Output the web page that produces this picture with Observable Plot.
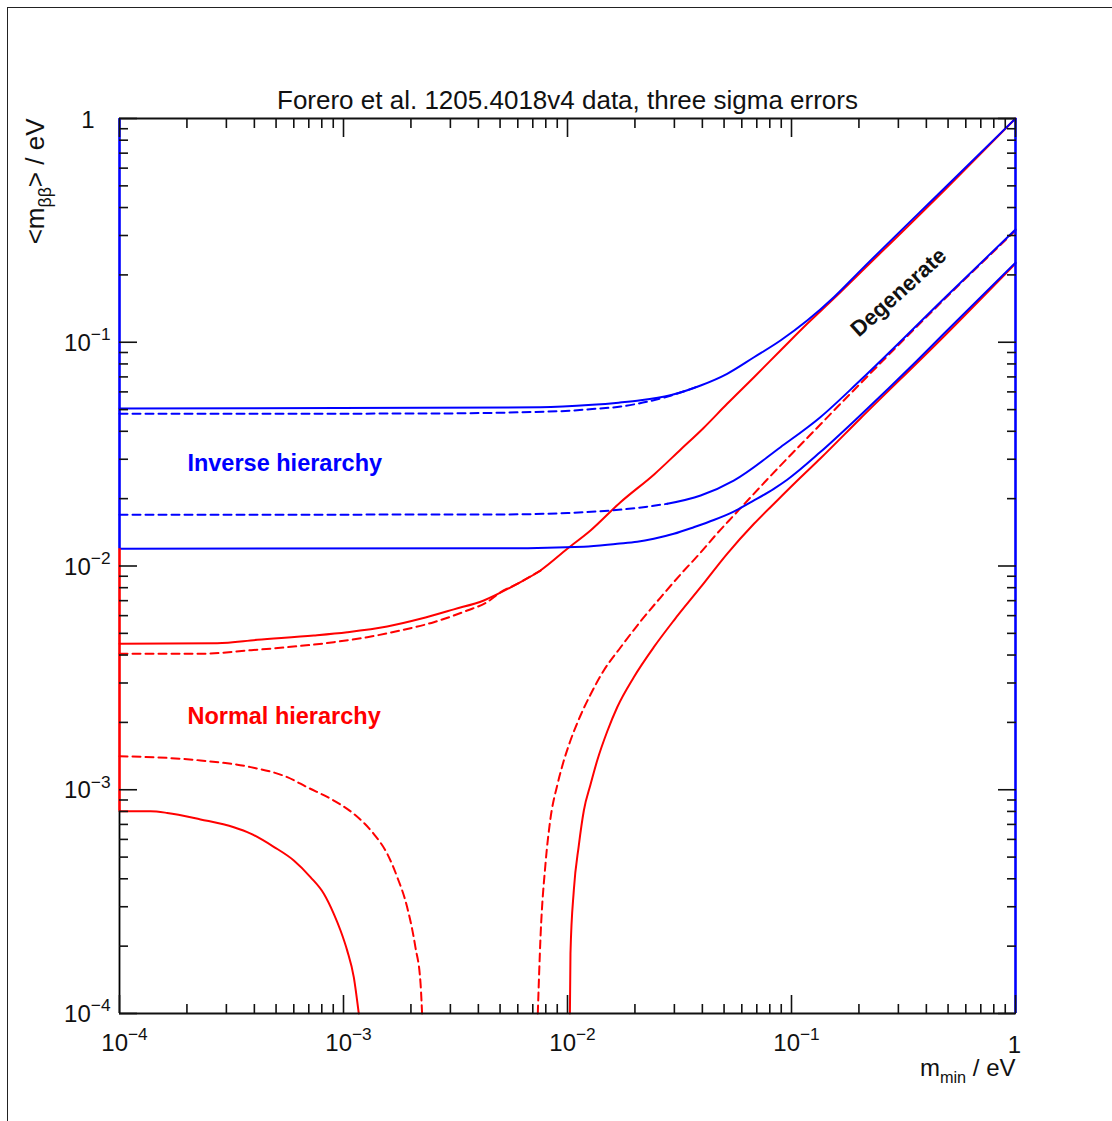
<!DOCTYPE html>
<html>
<head>
<meta charset="utf-8">
<script src="https://cdn.jsdelivr.net/npm/d3@7"></script>
<script src="https://cdn.jsdelivr.net/npm/@observablehq/plot@0.6"></script>
<style>
html, body { margin: 0; padding: 0; background: #fff; overflow: hidden; width: 1112px; height: 1121px; }
#chart { position: absolute; left: 0; top: 0; }
#frame { position: absolute; left: 7px; top: 7px; width: 1400px; height: 1400px; border: 1.6px solid #222; pointer-events: none; z-index: 2; }
</style>
</head>
<body>
<div id="chart"></div>
<div id="frame"></div>
<script>
// ---------------- data ----------------
const titleText = "Forero et al. 1205.4018v4 data, three sigma errors";
const xLabelText = "m_{min} / eV";
const yLabelText = "<m_{ββ}> / eV";

// Inverse hierarchy – upper edge, solid
const ihUpperSolidX = [1e-4, 0.00757, 0.0129, 0.0169, 0.0212, 0.0288, 0.0393, 0.0516, 0.0680, 0.0893, 0.1175, 0.1545, 0.203, 0.4955, 1];
const ihUpperSolidY = [0.0506, 0.0512, 0.0525, 0.0537, 0.0550, 0.0580, 0.0641, 0.0723, 0.0857, 0.1018, 0.125, 0.159, 0.209, 0.502, 1];
// Inverse hierarchy – upper edge, dashed
const ihUpperDashX = [1e-4, 0.0021, 0.0093, 0.0129, 0.0173, 0.0205, 0.0288, 0.0393];
const ihUpperDashY = [0.0479, 0.0480, 0.0492, 0.0503, 0.0516, 0.0531, 0.0577, 0.0641];
// Inverse hierarchy – lower edge, dashed (flat part) and its solid continuation
const ihLowerDashX = [1e-4, 0.0050, 0.0100, 0.0218, 0.0279];
const ihLowerDashY = [0.01694, 0.01700, 0.01725, 0.01832, 0.01897];
const ihLowerDashTailX = [0.0279, 0.0393, 0.0552, 0.0893, 0.1345, 0.203, 0.4955, 1];
const ihLowerDashTailY = [0.01897, 0.02066, 0.02410, 0.03396, 0.04624, 0.0676, 0.1618, 0.319];
// Inverse hierarchy – lower edge, solid
const ihLowerSolidX = [1e-4, 0.00502, 0.01183, 0.01667, 0.02048, 0.02428, 0.02982, 0.03663, 0.04498, 0.0552, 0.0680, 0.08337, 0.09568, 0.1345, 0.203, 0.364, 0.4786, 1];
const ihLowerSolidY = [0.01194, 0.01200, 0.01220, 0.01257, 0.01282, 0.01323, 0.01393, 0.01491, 0.01605, 0.01750, 0.01963, 0.02213, 0.02430, 0.03230, 0.04720, 0.08288, 0.1091, 0.227];

// Normal hierarchy – upper edge, solid
const nhUpperSolidX = [1e-4, 0.000273, 0.000412, 0.000737, 0.001039, 0.001567, 0.002207, 0.003108, 0.00423, 0.005962, 0.00757, 0.00998, 0.01267, 0.01724, 0.0245, 0.03194, 0.0404, 0.0516, 0.0680, 0.0893, 0.1175, 0.1545, 0.1965, 0.4955, 1];
const nhUpperSolidY = [0.00449, 0.004519, 0.00468, 0.004891, 0.005059, 0.005364, 0.005808, 0.0064, 0.007015, 0.008325, 0.009548, 0.01194, 0.01441, 0.01928, 0.0258, 0.0331, 0.0413, 0.05307, 0.06981, 0.09186, 0.1209, 0.1567, 0.1983, 0.492, 1];
// Normal hierarchy – upper edge, dashed
const nhUpperDashX = [1e-4, 0.00023, 0.000372, 0.000561, 0.000905, 0.001276, 0.001796, 0.00253, 0.003566, 0.004381, 0.005022, 0.006, 0.0076];
const nhUpperDashY = [0.004051, 0.004051, 0.004192, 0.004336, 0.004566, 0.004806, 0.005149, 0.00561, 0.006326, 0.0069, 0.00763, 0.00835, 0.00955];
// Normal hierarchy – lower edge, dashed (left branch, right branch)
const nhLowerDashLeftX = [1e-4, 0.00023, 0.000385, 0.000561, 0.000689, 0.000905, 0.001112, 0.001364, 0.001567, 0.001739, 0.001923, 0.002094, 0.002208, 0.002243];
const nhLowerDashLeftY = [0.001413, 0.001352, 0.001262, 0.001138, 0.001026, 0.000895, 0.00078, 0.000635, 0.000518, 0.000406, 0.000299, 0.000198, 0.000136, 0.0001];
const nhLowerDashRightX = [0.007369, 0.007577, 0.007976, 0.008395, 0.008995, 0.009462, 0.01031, 0.01143, 0.01267, 0.01452, 0.01724, 0.02117, 0.02602, 0.03194, 0.0393, 0.04654, 0.0552, 0.07788, 0.1345, 0.203, 0.4955, 1];
const nhLowerDashRightY = [0.0001, 0.000219, 0.000467, 0.000744, 0.001045, 0.00127, 0.00166, 0.002147, 0.002665, 0.003412, 0.004323, 0.005649, 0.007229, 0.009162, 0.01149, 0.01397, 0.01681, 0.02435, 0.04289, 0.0654, 0.1601, 0.3158];
// Normal hierarchy – lower edge, solid (left branch, right branch)
const nhLowerSolidLeftX = [1e-4, 0.0001375, 0.0001633, 0.00023, 0.0003238, 0.000385, 0.000488, 0.0006, 0.000712, 0.000817, 0.000905, 0.00097, 0.001039, 0.001112, 0.00117];
const nhLowerSolidLeftY = [0.000802, 0.000801, 0.000788, 0.000737, 0.00068, 0.000637, 0.000556, 0.000483, 0.000407, 0.000343, 0.000279, 0.000235, 0.000191, 0.000145, 0.0001];
const nhLowerSolidRightX = [0.01025, 0.01031, 0.01067, 0.01123, 0.01183, 0.01267, 0.01357, 0.01504, 0.01667, 0.01977, 0.02428, 0.02982, 0.0393, 0.0516, 0.068, 0.08636, 0.1097, 0.1345, 0.203, 0.4786, 1];
const nhLowerSolidRightY = [0.0001, 0.000185, 0.000355, 0.000563, 0.000808, 0.001055, 0.001351, 0.001821, 0.002338, 0.003184, 0.004336, 0.005706, 0.008041, 0.01134, 0.01544, 0.01963, 0.02485, 0.03022, 0.04563, 0.1061, 0.2249];

// axis ticks and labels
const decadeTicks = [1e-4, 1e-3, 1e-2, 1e-1, 1];
const minorMultipliers = [2, 3, 4, 5, 6, 7, 8, 9];
const powerTickValues = [1e-4, 1e-3, 1e-2, 1e-1];
const powerTickLabels = ["10^{−4}", "10^{−3}", "10^{−2}", "10^{−1}"];
const unitTickValues = [1];
const unitTickLabels = ["1"];

// coloured frame edges (value ranges along the left / right edge)
const leftEdgeFrom = [1, 0.01194, 0.000802];
const leftEdgeTo = [0.01194, 0.000802, 1e-4];
const leftEdgeColor = ["#0000ff", "#ff0000", "#000000"];
const rightEdgeFrom = [1];
const rightEdgeTo = [1e-4];
const rightEdgeColor = ["#0000ff"];

// annotations
const regionLabels = ["Inverse hierarchy", "Normal hierarchy"];
const regionLabelX = [0.000201, 0.000201];
const regionLabelY = [0.0287, 0.002125];
const regionLabelColor = ["#0000ff", "#ff0000"];
const degLabel = ["Degenerate"];
const degLabelX = [0.3004];
const degLabelY = [0.1668];

// ---------------- build ----------------
const BLUE = "#0000ff", RED = "#ff0000";
const rows = (xs, ys) => xs.map((x, i) => ({x, y: ys[i]}));
const minorTicks = decadeTicks.slice(0, -1).flatMap(d => minorMultipliers.map(k => k * d));
const lw = 2;

const curve = (xs, ys, color, dashed) =>
  Plot.line(rows(xs, ys), {x: "x", y: "y", stroke: color, strokeWidth: lw, curve: "monotone-x",
    strokeDasharray: dashed ? "8,5" : null, strokeLinejoin: "round"});

const edge = (xpos, from, to, colors) => colors.map((c, i) =>
  Plot.ruleX([{x: xpos, y1: from[i], y2: to[i]}], {x: "x", y1: "y1", y2: "y2", stroke: c, strokeWidth: c === "#000000" ? 1.8 : 2.6}));

const tickStroke = {fill: "none", label: null, stroke: "#111", strokeWidth: 1.6};
const txt = {fill: "#111", lineAnchor: "middle"};

const plot = Plot.plot({
  width: 1112,
  height: 1121,
  marginLeft: 119,
  marginRight: 97,
  marginTop: 118,
  marginBottom: 108,
  x: {type: "log", domain: [1e-4, 1]},
  y: {type: "log", domain: [1e-4, 1]},
  style: {fontFamily: "'Liberation Sans', Arial, sans-serif", fontSize: "24px", background: "white", color: "#111", overflow: "visible"},
  marks: [
    // normal hierarchy (red) first
    curve(nhUpperDashX, nhUpperDashY, RED, true),
    curve(nhUpperSolidX, nhUpperSolidY, RED, false),
    curve(nhLowerDashLeftX, nhLowerDashLeftY, RED, true),
    curve(nhLowerDashRightX, nhLowerDashRightY, RED, true),
    curve(nhLowerSolidLeftX, nhLowerSolidLeftY, RED, false),
    curve(nhLowerSolidRightX, nhLowerSolidRightY, RED, false),
    // inverse hierarchy (blue)
    curve(ihUpperDashX, ihUpperDashY, BLUE, true),
    curve(ihUpperSolidX, ihUpperSolidY, BLUE, false),
    curve(ihLowerDashX, ihLowerDashY, BLUE, true),
    curve(ihLowerDashTailX, ihLowerDashTailY, BLUE, false),
    curve(ihLowerSolidX, ihLowerSolidY, BLUE, false),
    // frame
    Plot.ruleY([1e-4], {y: d => d, stroke: "#111", strokeWidth: 1.8}),
    Plot.ruleY([1], {y: d => d, stroke: "#111", strokeWidth: 1.8}),
    ...edge(1e-4, leftEdgeFrom, leftEdgeTo, leftEdgeColor),
    ...edge(1, rightEdgeFrom, rightEdgeTo, rightEdgeColor),
    // inward ticks on all four sides
    ...["bottom", "top"].flatMap(anchor => [
      Plot.axisX(decadeTicks, {anchor, tickSize: -18, ...tickStroke}),
      Plot.axisX(minorTicks, {anchor, tickSize: -9, ...tickStroke})
    ]),
    ...["left", "right"].flatMap(anchor => [
      Plot.axisY(decadeTicks, {anchor, tickSize: -18, ...tickStroke}),
      Plot.axisY(minorTicks, {anchor, tickSize: -9, ...tickStroke})
    ]),
    // tick labels
    Plot.text(powerTickValues.map((v, i) => ({v, t: powerTickLabels[i]})), {x: "v", frameAnchor: "bottom", text: "t", textAnchor: "middle", dx: 5, dy: 30, fontSize: 24, ...txt}),
    Plot.text(unitTickValues.map((v, i) => ({v, t: unitTickLabels[i]})), {x: "v", frameAnchor: "bottom", text: "t", textAnchor: "middle", dx: -1, dy: 32, fontSize: 24, ...txt}),
    Plot.text(powerTickValues.map((v, i) => ({v, t: powerTickLabels[i]})), {y: "v", frameAnchor: "left", text: "t", textAnchor: "end", dx: -9, dy: 1, fontSize: 24, ...txt}),
    Plot.text(unitTickValues.map((v, i) => ({v, t: unitTickLabels[i]})), {y: "v", frameAnchor: "left", text: "t", textAnchor: "end", dx: -25, dy: 2, fontSize: 24, ...txt}),
    // title and axis labels
    Plot.text([titleText], {text: d => d, frameAnchor: "top", dy: -18, fontSize: 26, ...txt}),
    Plot.text([xLabelText], {text: d => d, frameAnchor: "bottom-right", textAnchor: "end", dy: 55, fontSize: 24, ...txt}),
    Plot.text([yLabelText], {text: d => d, frameAnchor: "top-left", textAnchor: "end", rotate: -90, dx: -84, dy: 0, fontSize: 26, ...txt}),
    // annotations
    Plot.text(regionLabels.map((t, i) => ({t, x: regionLabelX[i], y: regionLabelY[i], c: regionLabelColor[i]})),
      {x: "x", y: "y", text: "t", fill: d => d.c, textAnchor: "start", lineAnchor: "middle", fontSize: 23.5, fontWeight: "bold"}),
    Plot.text(degLabel.map((t, i) => ({t, x: degLabelX[i], y: degLabelY[i]})),
      {x: "x", y: "y", text: "t", rotate: -42, fontSize: 22, fontWeight: "bold", ...txt})
  ]
});

document.getElementById("chart").appendChild(plot);

// render ^{..} and _{..} as super/subscripts
const SVGNS = "http://www.w3.org/2000/svg";
d3.select(plot).selectAll("text").each(function () {
  const el = this;
  const s = el.textContent;
  if (!/[\^_]\{/.test(s)) return;
  const fs = parseFloat(getComputedStyle(el).fontSize) || 22;
  el.textContent = "";
  let cur = 0, last = 0, m;
  const re = /([\^_])\{([^}]*)\}/g;
  const add = (t, target, scale) => {
    const ts = document.createElementNS(SVGNS, "tspan");
    ts.textContent = t;
    const dy = target - cur;
    if (dy) ts.setAttribute("dy", dy.toFixed(2));
    if (scale !== 1) ts.setAttribute("font-size", (fs * scale).toFixed(1));
    cur = target;
    el.appendChild(ts);
  };
  while ((m = re.exec(s))) {
    if (m.index > last) add(s.slice(last, m.index), 0, 1);
    if (m[1] === "^") add(m[2], -0.45 * fs, 0.72);
    else add(m[2], 0.28 * fs, 0.68);
    last = re.lastIndex;
  }
  if (last < s.length) add(s.slice(last), 0, 1);
});
</script>
</body>
</html>
